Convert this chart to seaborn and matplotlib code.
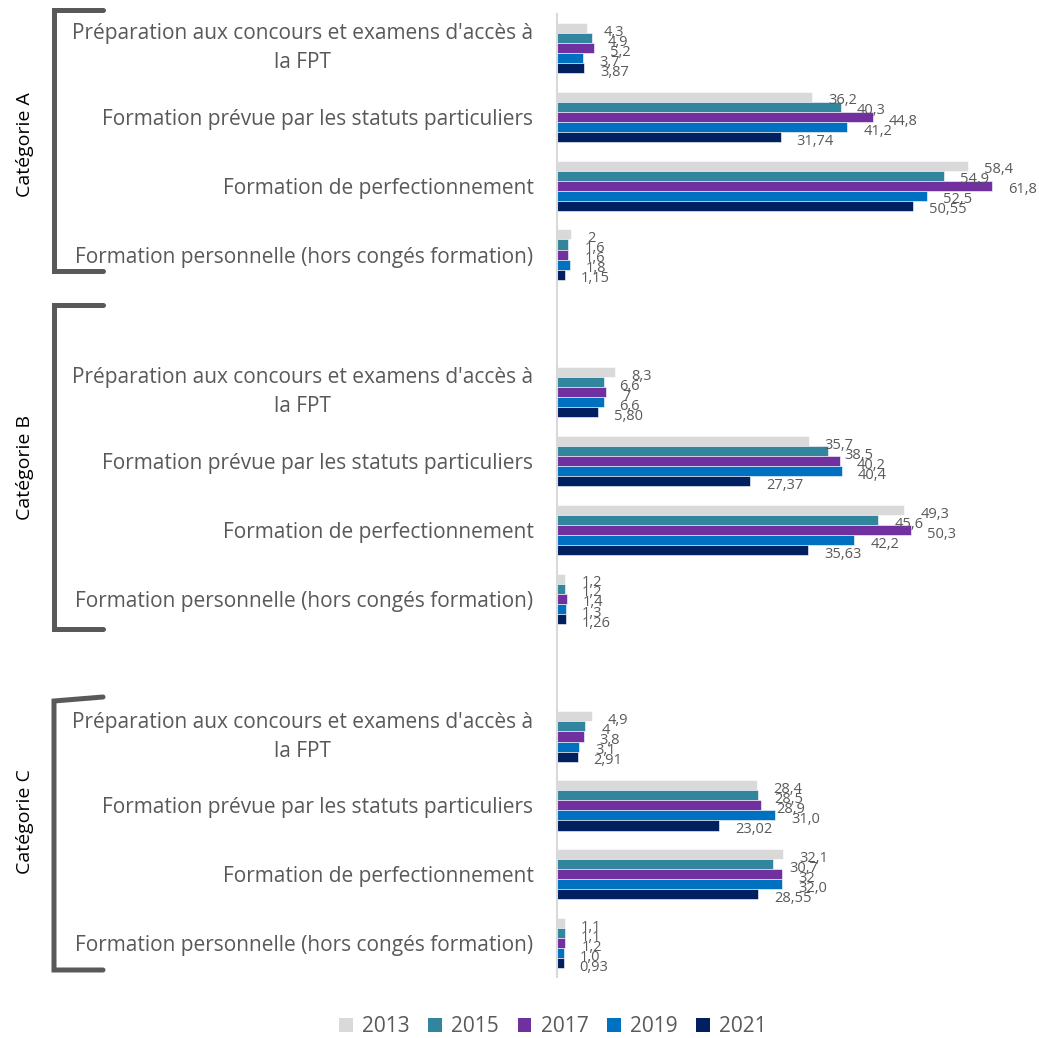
import numpy as np
import pandas as pd
import seaborn as sns
import matplotlib.pyplot as plt
from matplotlib.lines import Line2D
from matplotlib.patches import Patch


years = ['2013', '2015', '2017', '2019', '2021']
groups = ['Catégorie A', 'Catégorie B', 'Catégorie C']
formations = [
	"Préparation aux concours et examens d'accès à\nla FPT",
	"Formation prévue par les statuts particuliers",
	"Formation de perfectionnement",
	"Formation personnelle (hors congés formation)",
]

# labels as printed on the chart (A1..A4, B1..B4, C1..C4)
vals_2013 = ['4,3', '36,2', '58,4', '2', '8,3', '35,7', '49,3', '1,2', '4,9', '28,4', '32,1', '1,1']
vals_2015 = ['4,9', '40,3', '54,9', '1,6', '6,6', '38,5', '45,6', '1,2', '4', '28,5', '30,7', '1,1']
vals_2017 = ['5,2', '44,8', '61,8', '1,6', '7', '40,2', '50,3', '1,4', '3,8', '28,9', '32', '1,2']
vals_2019 = ['3,7', '41,2', '52,5', '1,8', '6,6', '40,4', '42,2', '1,3', '3,1', '31,0', '32,0', '1,0']
vals_2021 = ['3,87', '31,74', '50,55', '1,15', '5,80', '27,37', '35,63', '1,26', '2,91', '23,02', '28,55', '0,93']

colors = ['#d9d9d9', '#31859c', '#7030a0', '#0070c0', '#002060']
grey = '#595959'

all_vals = [vals_2013, vals_2015, vals_2017, vals_2019, vals_2021]

# build the category order with an empty slot between each block
keys = []
order = []
tick_labels = []
for g in groups:
	for f in formations:
		keys.append(g + '|' + f)
		order.append(g + '|' + f)
		tick_labels.append(f)
	if g != groups[-1]:
		order.append('gap ' + g)
		tick_labels.append('')

rows = []
for yr, vals in zip(years, all_vals):
	for k, v in zip(keys, vals):
		rows.append({'cat': k, 'annee': yr, 'valeur': float(v.replace(',', '.')), 'txt': v})
df = pd.DataFrame(rows)

sns.set_style('white')
plt.rcParams['font.family'] = ['Open Sans', 'DejaVu Sans']

fig = plt.figure(figsize=(10.39, 10.38), dpi=100)
W, H = 1039, 1038
ax = fig.add_axes([557 / W, 1 - 977.5 / H, (1022 - 557) / W, (977.5 - 13.6) / H])

sns.barplot(data=df, y='cat', x='valeur', hue='annee', order=order,
	hue_order=years, palette=colors, saturation=1, orient='h', width=0.73,
	edgecolor='white', linewidth=0.4, legend=False, ax=ax)

ax.set_xlim(0, 66)
ax.set_ylim(len(order) - 0.5, -0.5)
ax.set_xlabel('')
ax.set_ylabel('')
ax.set_xticks([])
ax.set_yticks(range(len(order)))
ax.set_yticklabels(tick_labels, fontsize=15, color=grey, multialignment='center')
for t in ax.get_yticklabels():
	t.set_linespacing(1.5)
	if '\n' in t.get_text():
		t.set_va('center')
ax.tick_params(axis='y', length=0, pad=17)
for s in ['top', 'right', 'bottom']:
	ax.spines[s].set_visible(False)
ax.spines['left'].set_color('#d9d9d9')
ax.spines['left'].set_linewidth(1.5)

# data labels
lookup = df.set_index(['cat', 'annee'])['txt'].to_dict()
for i, cont in enumerate(ax.containers):
	for bar in cont:
		w = bar.get_width()
		if np.isnan(w):
			continue
		yc = bar.get_y() + bar.get_height() / 2
		cat = order[int(round(yc))]
		if cat not in keys:
			continue
		ax.annotate(lookup[(cat, years[i])], (w, yc), xytext=(11.5, -3),
			textcoords='offset points', ha='left', va='center',
			fontsize=10.5, color=grey, annotation_clip=False)

# brackets and category titles
def px(x, y):
	return x / W, 1 - y / H

brackets = [(10, 10, 271), (305, 305, 629), (701, 697, 970)]
title_y = [145, 467, 822]
for (top, top_r, bot), g, ty in zip(brackets, groups, title_y):
	xs = [103, 54, 54, 103]
	ys = [top_r, top, bot, bot]
	pts = [px(a, b) for a, b in zip(xs, ys)]
	fig.add_artist(Line2D([p[0] for p in pts], [p[1] for p in pts],
		color=grey, linewidth=3.6, transform=fig.transFigure,
		solid_joinstyle='miter'))
	fx, fy = px(25, ty)
	fig.text(fx, fy, g, rotation=90, ha='center', va='center', fontsize=14, color='black')

handles = [Patch(facecolor=c, edgecolor='none') for c in colors]
leg = fig.legend(handles, years, loc='center', bbox_to_anchor=px(553, 1027), ncol=5,
	frameon=False, fontsize=15, handlelength=0.65, handleheight=0.65,
	handletextpad=0.45, columnspacing=0.9)
for t in leg.get_texts():
	t.set_color(grey)

plt.savefig('out.png', dpi=100)
